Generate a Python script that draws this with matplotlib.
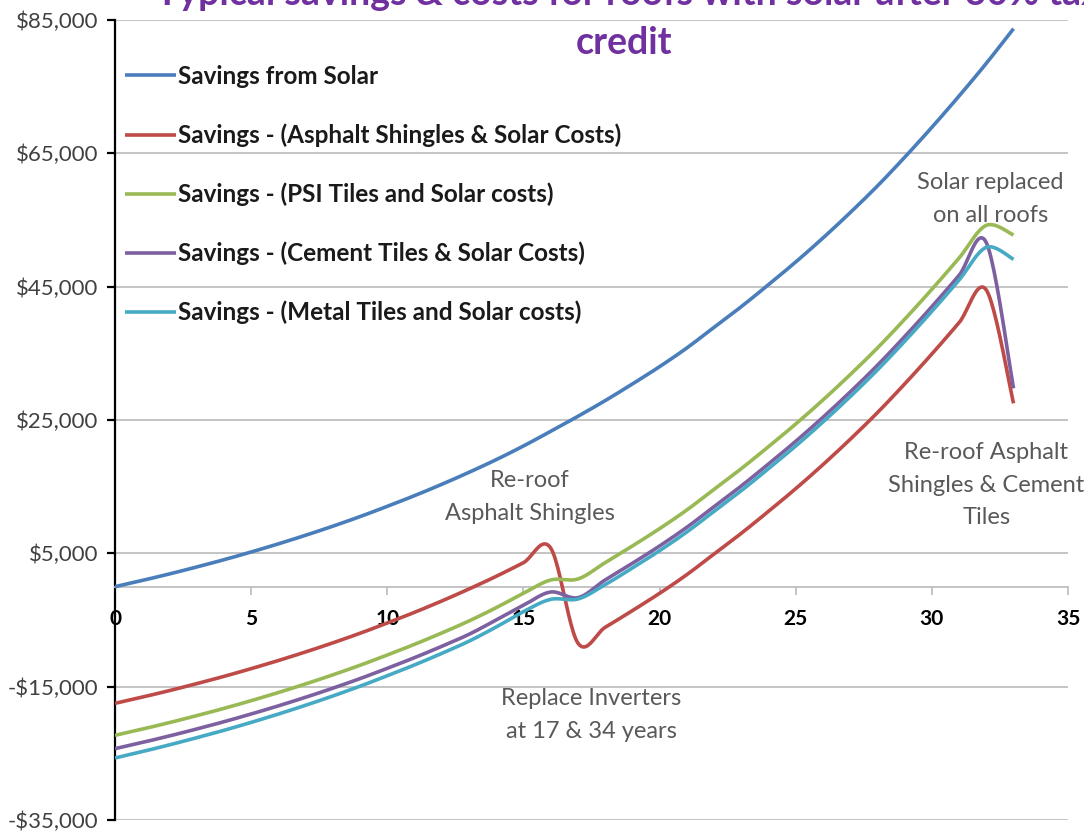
import numpy as np
import matplotlib
matplotlib.use("Agg")
import matplotlib.pyplot as plt
from matplotlib.ticker import FuncFormatter

plt.rcParams['font.family'] = ['Lato', 'DejaVu Sans']

years = list(range(0, 34))

savings_solar = [0, 930, 1910, 2950, 4040, 5200, 6420, 7710, 9070, 10510,
                 12050, 13650, 15350, 17150, 19050, 21100, 23300, 25550, 27900, 30400,
                 33000, 35800, 38900, 42000, 45300, 48700, 52300, 56100, 60100, 64400,
                 68900, 73600, 78500, 83700]
asphalt = [-17500, -16570, -15590, -14550, -13460, -12300, -11080, -9790, -8430, -6990,
           -5450, -3850, -2150, -350, 1550, 3600, 5800, -8450, -6100, -3600,
           -1000, 1800, 4900, 8000, 11300, 14700, 18300, 22100, 26100, 30400,
           34900, 39600, 44500, 27500]
psi_tiles = [-22300, -21370, -20390, -19350, -18260, -17100, -15880, -14590, -13230, -11790,
             -10250, -8650, -6950, -5150, -3150, -1000, 1000, 1150, 3600, 6100,
             8700, 11500, 14600, 17700, 21000, 24400, 28000, 31800, 35800, 40100,
             44600, 49300, 54200, 52750]
cement_tiles = [-24300, -23370, -22390, -21350, -20260, -19100, -17880, -16590, -15230, -13790,
                -12250, -10650, -8950, -7150, -5000, -2800, -800, -1650, 1000, 3500,
                6100, 8900, 12000, 15100, 18400, 21800, 25400, 29200, 33200, 37500,
                42000, 46700, 51600, 29750]
metal_tiles = [-25700, -24740, -23730, -22660, -21550, -20360, -19110, -17790, -16400, -14930,
               -13360, -11740, -10010, -8180, -6050, -3750, -1900, -1850, 300, 2800,
               5400, 8200, 11300, 14400, 17700, 21100, 24700, 28500, 32500, 36800,
               41300, 46000, 50900, 49100]

series_labels = ["Savings from Solar",
                 "Savings - (Asphalt Shingles & Solar Costs)",
                 "Savings - (PSI Tiles and Solar costs)",
                 "Savings - (Cement Tiles & Solar Costs)",
                 "Savings - (Metal Tiles and Solar costs)"]
series_values = [savings_solar, asphalt, psi_tiles, cement_tiles, metal_tiles]
series_colors = ["#4A7EBB", "#BE4B48", "#98B954", "#7D60A0", "#46AAC5"]

x_ticks = [0, 5, 10, 15, 20, 25, 30, 35]
y_ticks = [-35000, -15000, 5000, 25000, 45000, 65000, 85000]

title_line1 = "Typical savings & costs for roofs with solar after 30% tax"
title_line2 = "credit"


def smooth(xs, ys, n=24):
    # Excel-style smoothed line (Catmull-Rom cubic Bezier segments)
    p = np.column_stack([xs, ys]).astype(float)
    ext = np.vstack([p[0], p, p[-1]])
    out = []
    t = np.linspace(0, 1, n)[:, None]
    for i in range(len(p) - 1):
        p0, p1, p2, p3 = ext[i], ext[i + 1], ext[i + 2], ext[i + 3]
        c1 = p1 + (p2 - p0) / 6.0
        c2 = p2 - (p3 - p1) / 6.0
        seg = ((1 - t) ** 3) * p1 + 3 * ((1 - t) ** 2) * t * c1 + 3 * (1 - t) * t ** 2 * c2 + t ** 3 * p2
        out.append(seg if i == 0 else seg[1:])
    out = np.vstack(out)
    return out[:, 0], out[:, 1]


W, H = 1084, 832
fig = plt.figure(figsize=(W / 100, H / 100), dpi=100)
ax = fig.add_axes([115 / W, 1 - 820 / H, (1068 - 115) / W, (820 - 20) / H])

for vals, col, lab in zip(series_values, series_colors, series_labels):
    sx, sy = smooth(years, vals)
    ax.plot(sx, sy, color=col, lw=2.6, label=lab, solid_capstyle='butt', zorder=3)

ax.set_xlim(0, 35)
ax.set_ylim(-35000, 85000)
ax.set_yticks(y_ticks)
ax.set_xticks(x_ticks)

def money(v, pos):
    v = int(round(v))
    return ("-$" if v < 0 else "$") + f"{abs(v):,}"

ax.yaxis.set_major_formatter(FuncFormatter(money))
ax.yaxis.grid(True, color="#BFBFBF", lw=1.3, zorder=0)
ax.set_axisbelow(True)

for s in ["top", "right"]:
    ax.spines[s].set_visible(False)
ax.spines["left"].set_color("black")
ax.spines["left"].set_linewidth(1.6)
ax.spines["bottom"].set_position(("data", 0))
ax.spines["bottom"].set_color("#BFBFBF")
ax.spines["bottom"].set_linewidth(1.3)

ax.tick_params(axis="y", direction="out", length=6, width=1.6, color="black",
               labelsize=16, labelcolor="#404040", pad=6)
ax.tick_params(axis="x", direction="out", length=6, width=1.3, color="#BFBFBF",
               labelsize=15, labelcolor="black", pad=10)
for lbl in ax.get_xticklabels():
    lbl.set_fontweight("bold")
    lbl.set_clip_on(False)

leg = ax.legend(loc="upper left", bbox_to_anchor=(125 / W, 1 - 65 / H),
                bbox_transform=fig.transFigure, frameon=False,
                prop={"weight": "bold", "size": 17.5}, handlelength=2.1,
                handletextpad=0.1, labelspacing=1.46, borderaxespad=0, borderpad=0)
for t in leg.get_texts():
    t.set_color("#1a1a1a")

ann = dict(color="#595959", fontsize=17, ha="center", va="center", linespacing=1.7)
ax.text(15.25, 13450, "Re-roof\nAsphalt Shingles", **ann)
ax.text(17.48, -19300, "Replace Inverters\nat 17 & 34 years", **ann)
ax.text(32.15, 58150, "Solar replaced\non all roofs", **ann)
ax.text(32.0, 15250, "Re-roof Asphalt\nShingles & Cement\nTiles", **ann)

fig.text(628 / W, 1 - 5 / H, title_line1, color="#7030A0", fontsize=27,
         fontweight="bold", ha="center", va="baseline")
fig.text(624 / W, 1 - 54 / H, title_line2, color="#7030A0", fontsize=27,
         fontweight="bold", ha="center", va="baseline")

fig.savefig("out.png", dpi=100)
